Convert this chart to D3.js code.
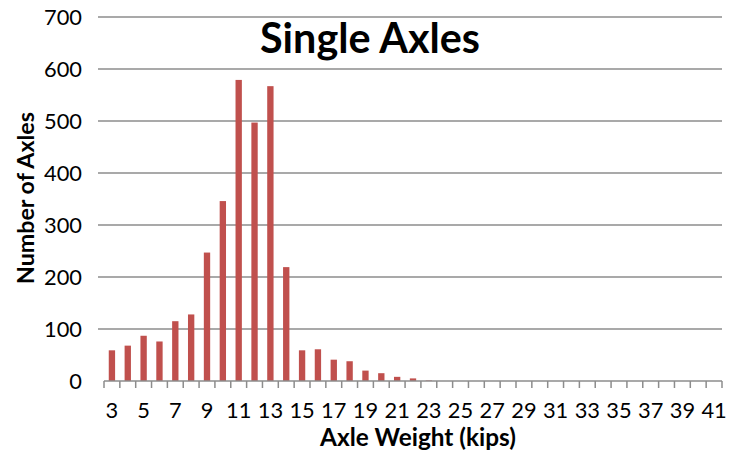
<!DOCTYPE html>
<html>
<head>
<meta charset="utf-8">
<script src="https://cdn.jsdelivr.net/npm/d3@7"></script>
<style>
  body { margin: 0; background: #fff; }
  text { font-family: Lato, "Open Sans", sans-serif; }
</style>
</head>
<body>
<div class="chart"></div>
<script>
// axle weight categories (kips)
var weights = d3.range(3, 42);
var counts = [59, 68, 87, 76, 115, 128, 247, 346, 579, 497, 567, 219,
  59, 61, 41, 38, 20, 15, 8, 5, 1, 0, 0, 0, 0, 0, 0, 0, 0, 0,
  0, 0, 0, 0, 0, 0, 0, 0, 0];
var yTicks = [0, 100, 200, 300, 400, 500, 600, 700];

var svgWidth = 729, svgHeight = 452;
var margin = { top: 17, right: 7, bottom: 71, left: 104 };
var width = svgWidth - margin.left - margin.right;
var height = svgHeight - margin.top - margin.bottom;

// scale a text's font size so it spans about the given width
function fitWidth(sel, target) {
  var node = sel.node();
  var fs = parseFloat(sel.style("font-size"));
  var w = node.getComputedTextLength();
  return fs * target / w;
}

var svg = d3.select(".chart")
  .append("svg")
  .attr("width", svgWidth)
  .attr("height", svgHeight);

var chartGroup = svg.append("g")
  .attr("transform", `translate(${margin.left}, ${margin.top})`);

var x = d3.scaleBand()
  .domain(weights)
  .range([0, width])
  .paddingInner(0.6)
  .paddingOuter(0.3);

var xb = d3.scaleBand().domain(weights).range([0, width]);

var y = d3.scaleLinear().domain([0, 700]).range([height, 0]);

// gridlines
chartGroup.append("g")
  .selectAll("line")
  .data(yTicks.slice(1))
  .join("line")
  .attr("x1", 0)
  .attr("x2", width)
  .attr("y1", d => y(d))
  .attr("y2", d => y(d))
  .attr("stroke", "#8c8c8c")
  .attr("stroke-width", 1.5);

// tick label size, fitted so "700" is as wide as in the original
var probe = svg.append("text").style("font-size", "20px").text("700");
var tickSize = fitWidth(probe, 38);
probe.remove();

// y labels
chartGroup.append("g")
  .selectAll("text")
  .data(yTicks)
  .join("text")
  .attr("x", -22)
  .attr("y", d => y(d))
  .attr("dy", "0.36em")
  .attr("text-anchor", "end")
  .style("font-size", tickSize + "px")
  .style("fill", "#000")
  .text(d => d);

// small tick marks at left
chartGroup.append("g")
  .selectAll("line")
  .data(yTicks.slice(1))
  .join("line")
  .attr("x1", -6)
  .attr("x2", 0)
  .attr("y1", d => y(d))
  .attr("y2", d => y(d))
  .attr("stroke", "#8c8c8c")
  .attr("stroke-width", 1.5);

// bars
chartGroup.append("g")
  .selectAll("rect")
  .data(weights)
  .join("rect")
  .attr("x", (d) => x(d))
  .attr("width", x.bandwidth())
  .attr("y", (d, i) => y(counts[i]))
  .attr("height", (d, i) => height - y(counts[i]))
  .attr("fill", "#c0504d");

// x axis line + ticks at band boundaries
var xAxis = chartGroup.append("g")
  .attr("transform", `translate(0, ${height})`);
xAxis.append("line")
  .attr("x1", 0).attr("x2", width)
  .attr("stroke", "#8c8c8c").attr("stroke-width", 1.5);
xAxis.selectAll(".tk")
  .data(weights.concat([42]))
  .join("line")
  .attr("class", "tk")
  .attr("x1", (d, i) => i * xb.bandwidth())
  .attr("x2", (d, i) => i * xb.bandwidth())
  .attr("y1", 0).attr("y2", 7)
  .attr("stroke", "#8c8c8c").attr("stroke-width", 1.5);
xAxis.selectAll("text")
  .data(weights.filter(d => d % 2 === 1))
  .join("text")
  .attr("x", d => xb(d) + xb.bandwidth() / 2)
  .attr("y", 37)
  .attr("text-anchor", "middle")
  .style("font-size", tickSize + "px")
  .style("fill", "#000")
  .text(d => d);

// title
var title = svg.append("text")
  .attr("x", 370)
  .attr("y", 53)
  .attr("text-anchor", "middle")
  .style("font-size", "36px")
  .style("font-weight", "bold")
  .style("fill", "#000")
  .text("Single Axles");
title.style("font-size", fitWidth(title, 220) + "px");

var xTitle = svg.append("text")
  .attr("x", 418)
  .attr("y", 446)
  .attr("text-anchor", "middle")
  .style("font-size", "20px")
  .style("font-weight", "bold")
  .style("fill", "#000")
  .text("Axle Weight (kips)");
xTitle.style("font-size", fitWidth(xTitle, 196) + "px");

var yTitle = svg.append("text")
  .attr("transform", "rotate(-90)")
  .attr("x", -198)
  .attr("y", 34)
  .attr("text-anchor", "middle")
  .style("font-size", "20px")
  .style("font-weight", "bold")
  .style("fill", "#000")
  .text("Number of Axles");
yTitle.style("font-size", fitWidth(yTitle, 172) + "px");
</script>
</body>
</html>
